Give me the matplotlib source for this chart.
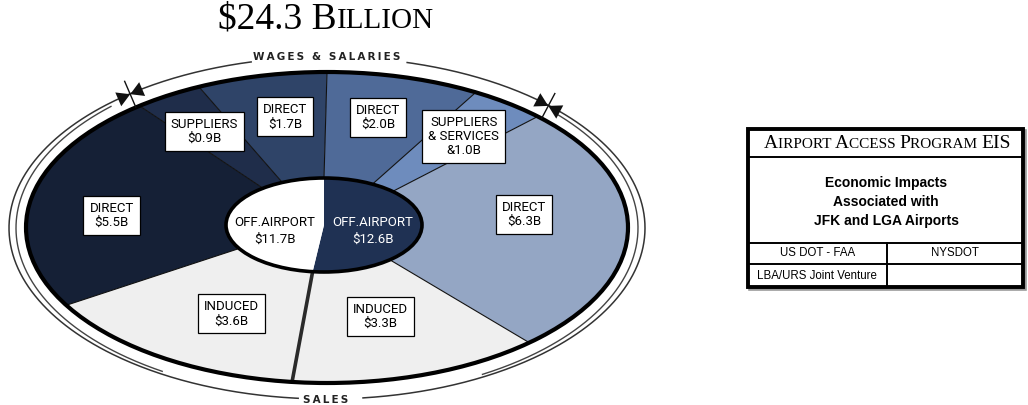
import numpy as np
import matplotlib
matplotlib.use("Agg")
import matplotlib.pyplot as plt
from matplotlib.patches import Polygon, Ellipse, Rectangle
from matplotlib.offsetbox import TextArea, HPacker, AnnotationBbox

# ---------------- data ----------------
title_parts = [("$24.3 B", "big"), ("ILLION", "small")]
segment_labels = ["DIRECT\n$2.0B", "SUPPLIERS\n& SERVICES\n&1.0B", "DIRECT\n$6.3B",
                  "INDUCED\n$3.3B", "INDUCED\n$3.6B", "DIRECT\n$5.5B",
                  "SUPPLIERS\n$0.9B", "DIRECT\n$1.7B"]
segment_values = [2.0, 1.0, 6.3, 3.3, 3.6, 5.5, 0.9, 1.7]
segment_colors = ["#4f6a98", "#6e8cbd", "#94a6c4", "#efefef", "#efefef",
                  "#152036", "#1f2d4a", "#2f4468"]
center_labels = ["OFF.AIRPORT\n$12.6B", "OFF.AIRPORT\n$11.7B"]
center_values = [12.6, 11.7]
center_colors = ["#1f3153", "#ffffff"]
center_text_colors = ["white", "black"]
ring_top_label = "WAGES & SALARIES"
ring_bottom_label = "SALES"
header_parts = [("A", "big"), ("IRPORT ", "small"), ("A", "big"), ("CCESS ", "small"),
                ("P", "big"), ("ROGRAM ", "small"), ("EIS", "big")]
block_main = "Economic Impacts\nAssociated with\nJFK and LGA Airports"
block_cells = ["US DOT - FAA", "NYSDOT", "LBA/URS Joint Venture", ""]

# ---------------- layout ----------------
label_r = [0.73, 0.74, 0.66, 0.60, 0.64, 0.72, 0.74, 0.725]
label_dt = [1.4, -0.8, 8.6, -0.6, 3.6, 4.6, 1.5, -1.6]
CX, CY, A, B = 327, 227.5, 301, 155.5          # main ellipse
ICX, ICY, IA, IB = 324, 225, 98, 47            # inner ellipse
RCX, RCY, RB = 327, 228, 171                   # ring
LABEL_FONT = ["Liberation Sans Narrow", "Roboto", "DejaVu Sans"]

fig = plt.figure(figsize=(10.28, 4.05), dpi=100)
ax = fig.add_axes([0, 0, 1, 1])
ax.set_xlim(0, 1028)
ax.set_ylim(405, 0)
ax.axis("off")


def pts(cx, cy, a, b, t0, t1, n=120):
    t = np.radians(np.linspace(t0, t1, n))
    return np.column_stack([cx + a * np.cos(t), cy - b * np.sin(t)])


total = sum(segment_values)
bounds = [90 - 360 * c / total for c in np.concatenate([[0], np.cumsum(segment_values)])]

# wedges
for i, v in enumerate(segment_values):
    t0, t1 = bounds[i], bounds[i + 1]
    outer = pts(CX, CY, A, B, t0, t1)
    inner = pts(ICX, ICY, IA, IB, t1, t0)
    ax.add_patch(Polygon(np.vstack([outer, inner]), closed=True,
                         facecolor=segment_colors[i], edgecolor="none", zorder=2))

# separators
for j, t in enumerate(bounds[:-1]):
    p_in = pts(ICX, ICY, IA, IB, t, t, 1)[0]
    p_out = pts(CX, CY, A, B, t, t, 1)[0]
    split = np.isclose(t, 90 - 360 * center_values[0] / total)
    ax.plot([p_in[0], p_out[0]], [p_in[1], p_out[1]],
            color="#2a2a2a" if split else "#111111",
            lw=2.6 if split else 0.8, zorder=3, solid_capstyle="butt")

# outer border
ax.add_patch(Ellipse((CX, CY), 2 * A, 2 * B, fill=False, lw=3.0, edgecolor="black", zorder=4))

# inner halves
cb = [90 - 360 * c / total for c in np.concatenate([[0], np.cumsum(center_values)])]
for i in range(len(center_values)):
    poly = np.vstack([[ICX, ICY], pts(ICX, ICY, IA, IB, cb[i], cb[i + 1])])
    ax.add_patch(Polygon(poly, closed=True, facecolor=center_colors[i],
                         edgecolor="none", zorder=5))
ax.add_patch(Ellipse((ICX, ICY), 2 * IA, 2 * IB, fill=False, lw=2.6, edgecolor="black", zorder=6))
for i, lab in enumerate(center_labels):
    tm = np.radians((cb[i] + cb[i + 1]) / 2)
    ax.text(ICX + 0.5 * IA * np.cos(tm), ICY + 6, lab, ha="center", va="center",
            fontsize=9.5, color=center_text_colors[i], family=LABEL_FONT,
            linespacing=1.4, zorder=7)

# labels in boxes
for i, lab in enumerate(segment_labels):
    tm = np.radians((bounds[i] + bounds[i + 1]) / 2 + label_dt[i])
    x = CX + label_r[i] * A * np.cos(tm)
    y = CY - label_r[i] * B * np.sin(tm)
    ax.text(x, y, lab, ha="center", va="center", fontsize=9.5,
            family=LABEL_FONT, linespacing=1.1, zorder=8,
            bbox=dict(boxstyle="square,pad=0.45", facecolor="white", edgecolor="black", lw=0.9))

# ring: outer line all round (with text gaps), inner line on the sides only
gaps = [(75.4, 103.8), (264.8, 276.5)]
for s, e in [(gaps[0][1], gaps[1][0]), (gaps[1][1], gaps[0][0] + 360)]:
    p = pts(RCX, RCY, 318, RB, s, e, 300)
    ax.plot(p[:, 0], p[:, 1], color="#333333", lw=1.1, zorder=2)
for s, e in [(134, 238), (-60, 42)]:
    p = pts(RCX, RCY, 311, RB - 2, s, e, 300)
    ax.plot(p[:, 0], p[:, 1], color="#444444", lw=1.0, zorder=2)
ax.text(RCX, RCY - RB, "\u2009".join(ring_top_label), ha="center", va="center",
        fontsize=7.5, fontweight="bold", color="#222222")
ax.text(RCX - 1, RCY + RB + 1, "\u2009".join(ring_bottom_label), ha="center", va="center",
        fontsize=7.5, fontweight="bold", color="#222222")

# bow-tie markers at wage boundaries
for t in (bounds[6], bounds[2]):
    tr = np.radians(t)
    am = 316
    P = np.array([RCX + am * np.cos(tr), RCY - RB * np.sin(tr)])
    tan = np.array([-am * np.sin(tr), -RB * np.cos(tr)])
    tan /= np.linalg.norm(tan)
    nor = np.array([-tan[1], tan[0]])
    for sgn in (1, -1):
        base = P + sgn * 13 * tan
        tri = np.array([P, base + 7.5 * nor, base - 7.5 * nor])
        ax.add_patch(Polygon(tri, closed=True, facecolor="#111111", edgecolor="none", zorder=9))
    ax.plot([P[0] - 14 * nor[0], P[0] + 14 * nor[0]], [P[1] - 14 * nor[1], P[1] + 14 * nor[1]],
            color="#111111", lw=1.0, zorder=9)

# title small caps
def smallcaps(parts, big, small, family):
    kids = [TextArea(s, textprops=dict(fontsize=big if k == "big" else small, family=family,
                                       color="black")) for s, k in parts]
    return HPacker(children=kids, align="baseline", pad=0, sep=0)

ab = AnnotationBbox(smallcaps(title_parts, 27, 21, "Liberation Serif"), (326, 19),
                    xycoords="data", frameon=False, box_alignment=(0.5, 0.5))
ax.add_artist(ab)

# title block
X0, X1, Y0, Y1 = 748, 1023, 129, 287
ax.add_patch(Rectangle((X0 + 1.5, Y0 + 1.5), X1 - X0, Y1 - Y0, fill=False, lw=2.6,
                       edgecolor="#999999", zorder=9))
ax.add_patch(Rectangle((X0, Y0), X1 - X0, Y1 - Y0, facecolor="white", lw=2.8,
                       edgecolor="black", zorder=10))
for yy in (157, 243, 264):
    ax.plot([X0, X1], [yy, yy], color="black", lw=1.4, zorder=11)
ax.plot([887, 887], [243, Y1], color="black", lw=1.4, zorder=11)
ab2 = AnnotationBbox(smallcaps(header_parts, 14, 11, "Liberation Serif"), (887, 143),
                     xycoords="data", frameon=False, box_alignment=(0.5, 0.5), zorder=12)
ax.add_artist(ab2)
ax.text(886, 202, block_main, ha="center", va="center", fontsize=10, fontweight="bold",
        family="Liberation Sans", linespacing=1.45, zorder=12)
cell_xy = [(818, 253.5), (955, 253.5), (817, 276), (955, 276)]
for (cx_, cy_), t in zip(cell_xy, block_cells):
    ax.text(cx_, cy_, t, ha="center", va="center", fontsize=8.3, family="Liberation Sans",
            zorder=12)

fig.savefig("out.png", dpi=100)
